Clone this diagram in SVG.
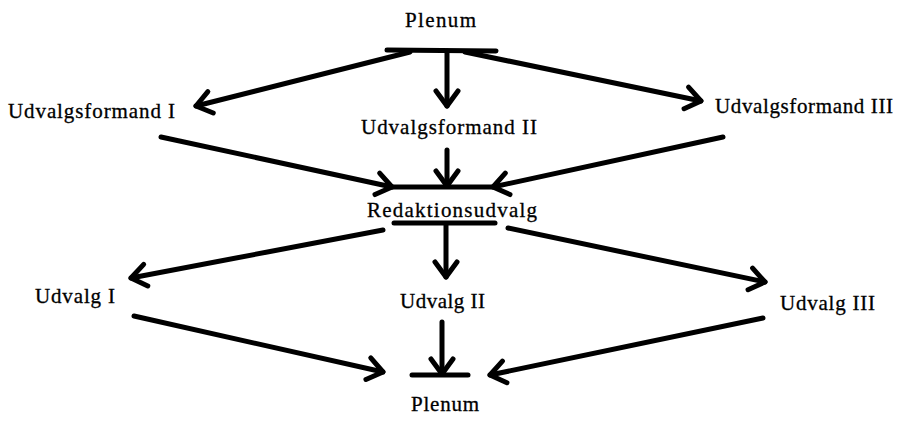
<svg xmlns="http://www.w3.org/2000/svg" width="898" height="421" viewBox="0 0 898 421">
<defs>
<style>
.t{font-family:"Liberation Serif",serif;font-size:21px;fill:#000;stroke:#000;stroke-width:0.3}
.l{stroke:#000;stroke-width:5;fill:none;stroke-linecap:round}
.a{marker-end:url(#ah)}
</style>
<marker id="ah" markerUnits="userSpaceOnUse" markerWidth="30" markerHeight="30" viewBox="-20 -15 25 30" refX="0" refY="0" orient="auto" overflow="visible">
<path d="M-15 -11 L0 0 L-15 11" fill="none" stroke="#000" stroke-width="5" stroke-linecap="round" stroke-linejoin="round"/>
</marker>
</defs>
<rect width="898" height="421" fill="#fff"/>
<g id="plenum-top"><text class="t" x="405" y="27" textLength="71" lengthAdjust="spacing">Plenum</text></g>
<g id="udvalgsformand-1"><text class="t" x="8" y="118" textLength="167" lengthAdjust="spacing">Udvalgsformand I</text></g>
<g id="udvalgsformand-2"><text class="t" x="361" y="134" textLength="176" lengthAdjust="spacing">Udvalgsformand II</text></g>
<g id="udvalgsformand-3"><text class="t" x="715" y="113" textLength="178" lengthAdjust="spacing">Udvalgsformand III</text></g>
<g id="redaktionsudvalg"><text class="t" x="367" y="217" textLength="170" lengthAdjust="spacing">Redaktionsudvalg</text></g>
<g id="udvalg-1"><text class="t" x="35" y="303" textLength="80" lengthAdjust="spacing">Udvalg I</text></g>
<g id="udvalg-2"><text class="t" x="400" y="308" textLength="85" lengthAdjust="spacing">Udvalg II</text></g>
<g id="udvalg-3"><text class="t" x="780" y="310" textLength="95" lengthAdjust="spacing">Udvalg III</text></g>
<g id="plenum-bottom"><text class="t" x="411" y="411" textLength="68" lengthAdjust="spacing">Plenum</text></g>
<g id="connectors">
<line class="l" x1="387" y1="50" x2="496" y2="51"/>
<line class="l a" x1="410" y1="52" x2="196" y2="106"/>
<line class="l a" x1="447" y1="51" x2="447" y2="106"/>
<line class="l a" x1="465" y1="52" x2="701" y2="101"/>
<line class="l" x1="393" y1="187" x2="492" y2="187"/>
<line class="l a" x1="161" y1="137" x2="392" y2="187"/>
<line class="l a" x1="447" y1="150" x2="447" y2="186"/>
<line class="l a" x1="723" y1="137" x2="493" y2="187"/>
<line class="l" x1="394" y1="223" x2="495" y2="223"/>
<line class="l a" x1="383" y1="230" x2="131" y2="278"/>
<line class="l a" x1="446" y1="224" x2="446" y2="277"/>
<line class="l a" x1="508" y1="228" x2="765" y2="282"/>
<line class="l" x1="412" y1="375" x2="468" y2="375"/>
<line class="l a" x1="134" y1="316" x2="383" y2="372"/>
<line class="l a" x1="442" y1="322" x2="442" y2="374"/>
<line class="l a" x1="763" y1="318" x2="490" y2="375"/>
</g>
</svg>
